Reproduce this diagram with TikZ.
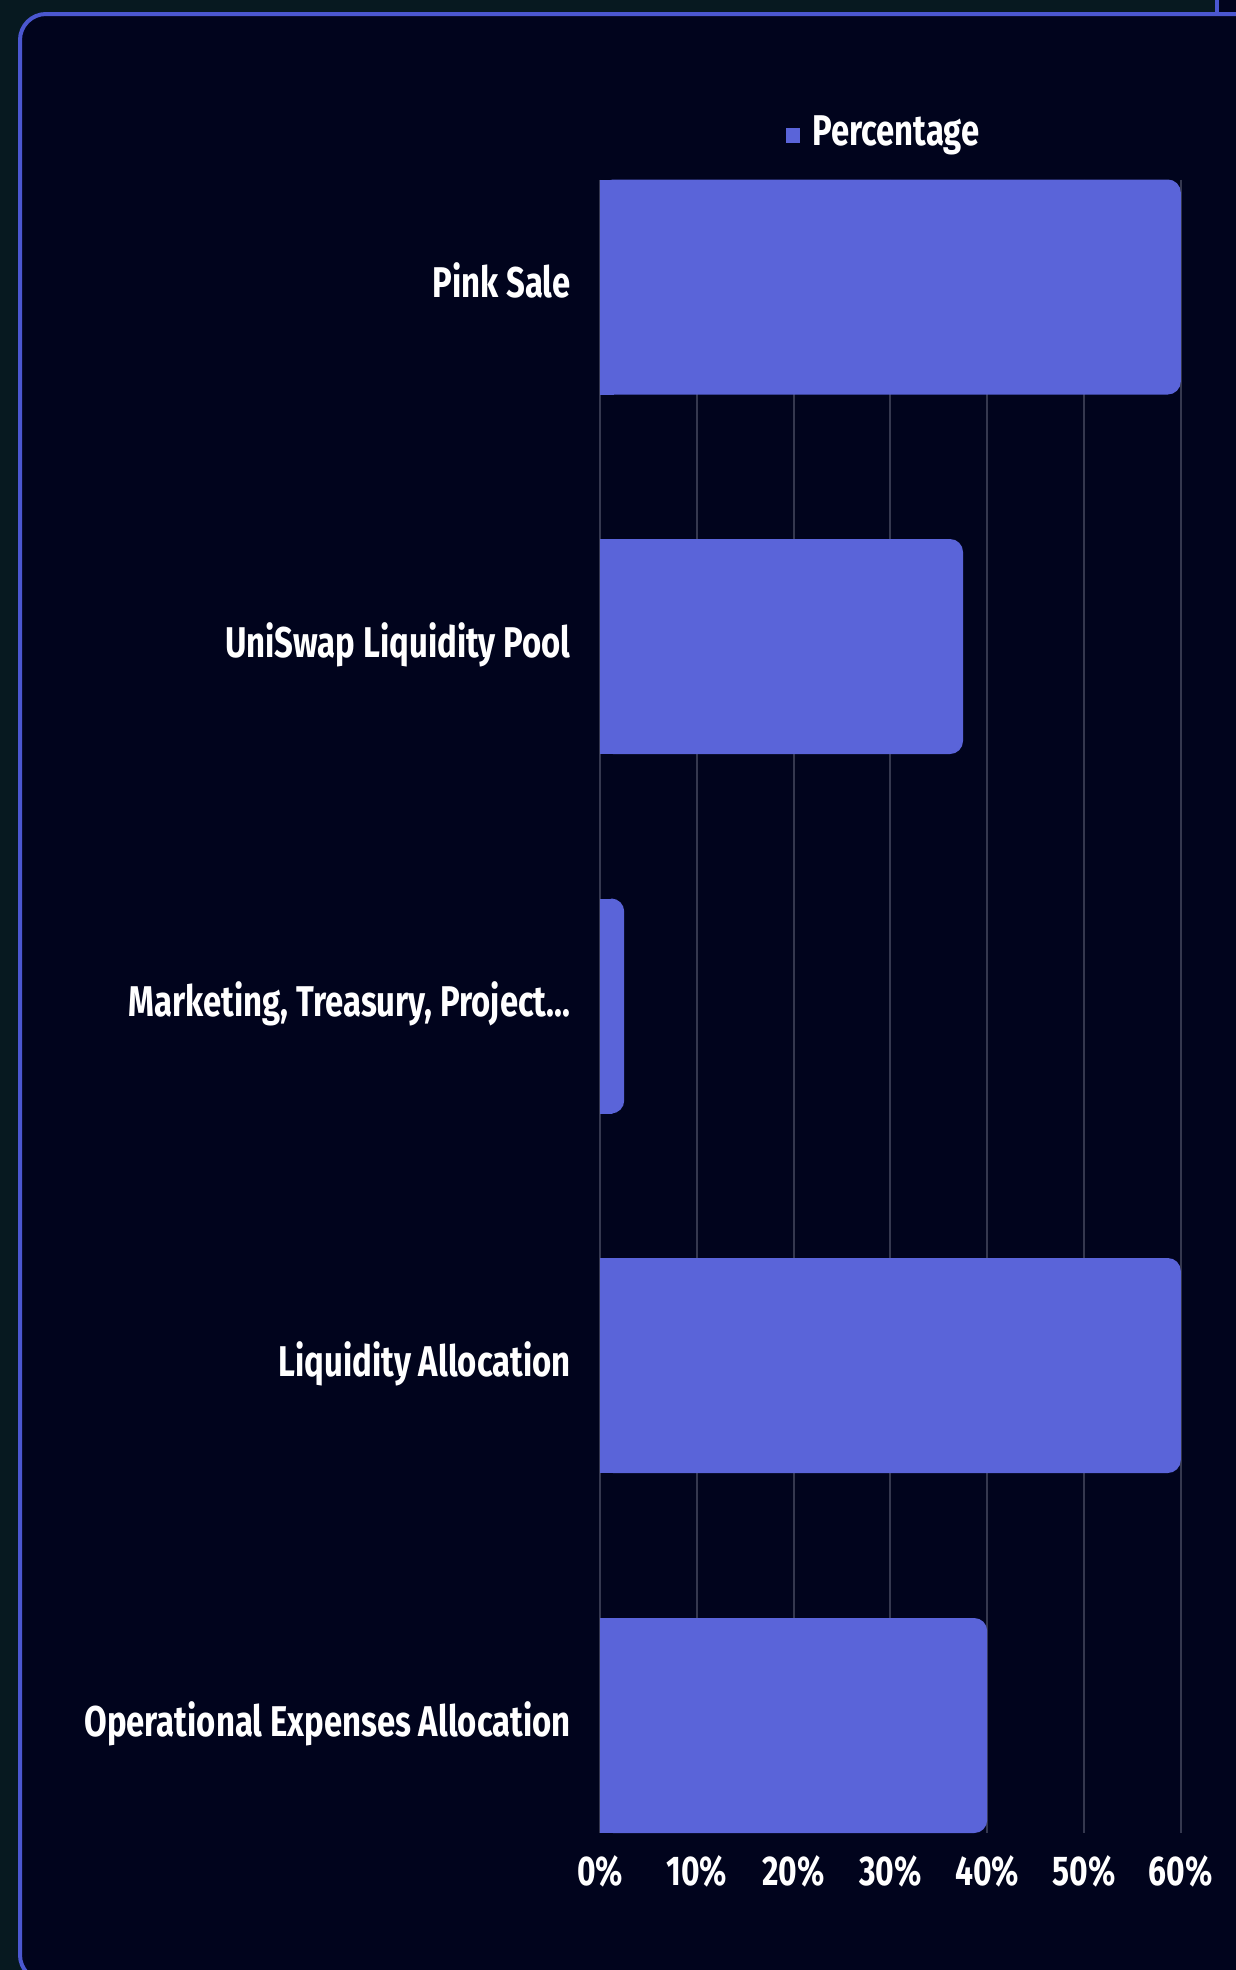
\documentclass[tikz,border=0pt]{standalone}
\usepackage{fontspec}
\newfontfamily\chartfont{Fira Sans}[FakeStretch=0.765]
\definecolor{outerbg}{HTML}{071920}
\definecolor{panelbg}{HTML}{01041D}
\definecolor{panelline}{HTML}{4B57D0}
\definecolor{barblue}{HTML}{5A64D9}
\definecolor{gridgray}{HTML}{35384F}
\begin{document}
\begin{tikzpicture}[x=0.5pt,y=-0.5pt,
  lbl/.style={text=white,inner sep=0pt,font=\chartfont\bfseries\fontsize{21.5}{24}\selectfont},
  ticklbl/.style={lbl,anchor=base,font=\chartfont\bfseries\fontsize{20.8}{24}\selectfont},
  gridline/.style={gridgray,line width=1},
  barfill/.style={barblue,rounded corners=6.5pt}]
\pgfmathsetmacro{\barx}{600}
\pgfmathsetmacro{\step}{96.8}
\pgfmathsetmacro{\barh}{215}
\useasboundingbox (0,0) rectangle (1236,1970);
\fill[outerbg] (0,0) rectangle (1236,1970);
\draw[panelline,line width=2,fill=panelbg] (1217,-40) rectangle (1320,14);
\draw[panelline,line width=2,fill=panelbg,rounded corners=13pt] (20,14) rectangle (1320,1981);
\foreach \k in {0,...,6} {
  \draw[gridline] (\barx+\step*\k,179.5) -- (\barx+\step*\k,1833);
  \node[ticklbl] (tick\k) at (\barx+\step*\k,1885) {\pgfmathparse{int(10*\k)}\pgfmathresult\%};
}
\fill[barfill] (\barx,179.5) rectangle (\barx+6*\step,179.5+\barh);
\fill[barblue] (\barx,179.5) rectangle (\barx+14,179.5+\barh);
\fill[barfill] (\barx,539) rectangle (\barx+3.75*\step,539+\barh);
\fill[barblue] (\barx,539) rectangle (\barx+14,539+\barh);
\fill[barfill] (\barx,898.5) rectangle (\barx+0.25*\step,898.5+\barh);
\fill[barblue] (\barx,898.5) rectangle (\barx+12,898.5+\barh);
\fill[barfill] (\barx,1258) rectangle (\barx+6*\step,1258+\barh);
\fill[barblue] (\barx,1258) rectangle (\barx+14,1258+\barh);
\fill[barfill] (\barx,1618) rectangle (\barx+4*\step,1618+\barh);
\fill[barblue] (\barx,1618) rectangle (\barx+14,1618+\barh);
\node[lbl,anchor=base east] (pinksale) at (571,297) {Pink Sale};
\node[lbl,anchor=base east] (uniswap) at (571,657) {UniSwap Liquidity Pool};
\node[lbl,anchor=base east] (marketing) at (571,1016.5) {Marketing, Treasury, Project...};
\node[lbl,anchor=base east] (liquidity) at (571,1376) {Liquidity Allocation};
\node[lbl,anchor=base east] (operational) at (571,1736) {Operational Expenses Allocation};
\fill[barblue] (786,128) rectangle (800,143);
\node[lbl,anchor=base west] (legend) at (812,145.7) {Percentage};
\end{tikzpicture}
\end{document}
